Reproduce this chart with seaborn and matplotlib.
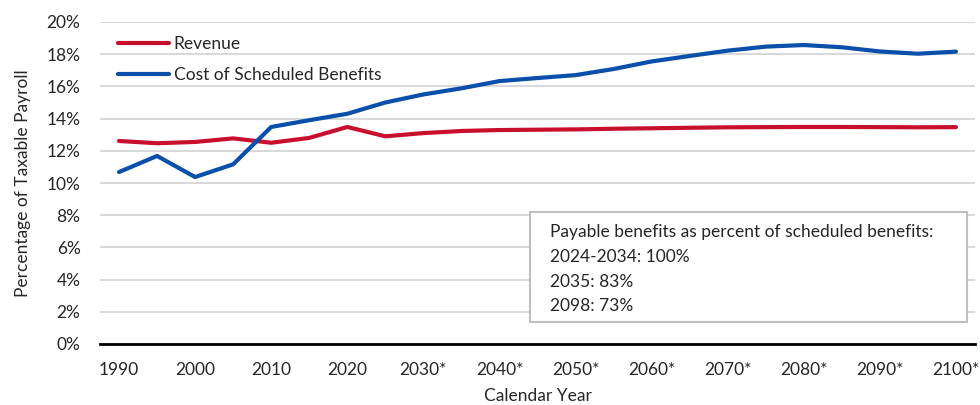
import matplotlib
matplotlib.use("Agg")
import matplotlib.pyplot as plt
import seaborn as sns
import pandas as pd
from matplotlib.ticker import FuncFormatter
from matplotlib.patches import Rectangle

# Social Security trust fund: revenue vs. cost, % of taxable payroll
years = [1990, 1995, 2000, 2005, 2010, 2015, 2020, 2025, 2030, 2035, 2040, 2045,
         2050, 2055, 2060, 2065, 2070, 2075, 2080, 2085, 2090, 2095, 2100]
revenue = [12.61, 12.47, 12.55, 12.77, 12.50, 12.80, 13.48, 12.90, 13.10, 13.23, 13.29, 13.31,
           13.33, 13.37, 13.40, 13.43, 13.46, 13.47, 13.48, 13.48, 13.47, 13.46, 13.47]
cost = [10.68, 11.68, 10.37, 11.16, 13.48, 13.90, 14.30, 15.00, 15.50, 15.88, 16.33, 16.52,
        16.70, 17.08, 17.55, 17.89, 18.22, 18.47, 18.57, 18.43, 18.17, 18.03, 18.16]
tick_years = list(range(1990, 2101, 10))
tick_labels = ["1990", "2000", "2010", "2020", "2030*", "2040*", "2050*",
               "2060*", "2070*", "2080*", "2090*", "2100*"]
note_lines = ["Payable benefits as percent of scheduled benefits:",
              "2024-2034: 100%", "2035: 83%", "2098: 73%"]

df = pd.DataFrame({
    "Year": years * 2,
    "Value": revenue + cost,
    "Series": ["Revenue"] * len(years) + ["Cost of Scheduled Benefits"] * len(years),
})

sns.set_theme(style="white")
plt.rcParams["font.family"] = ["Lato", "DejaVu Sans"]
text_color = "#262626"
fs = 12.5

fig = plt.figure(figsize=(9.8, 4.05), dpi=100)
ax = fig.add_axes([100 / 980, 1 - 344 / 405, 875 / 980, 322 / 405])

palette = {"Revenue": "#C8102E", "Cost of Scheduled Benefits": "#0A4FAA"}
sns.lineplot(data=df, x="Year", y="Value", hue="Series", palette=palette,
             linewidth=3, ax=ax, legend=False)

ax.set_xlim(1987.5, 2102.5)
ax.set_ylim(0, 20)
ax.set_yticks(range(0, 21, 2))
ax.yaxis.set_major_formatter(FuncFormatter(lambda v, _: f"{v:.0f}%"))
ax.set_xticks(tick_years)
ax.set_xticklabels(tick_labels)
ax.tick_params(axis="y", labelsize=fs, colors=text_color, length=0, pad=14)
ax.tick_params(axis="x", labelsize=fs, colors=text_color, length=0, pad=13)

ax.grid(axis="y", color="#D9D9D9", linewidth=1.5)
ax.set_axisbelow(True)
for side in ["top", "right", "left"]:
    ax.spines[side].set_visible(False)
ax.spines["bottom"].set_color("black")
ax.spines["bottom"].set_linewidth(2)
ax.spines["bottom"].set_zorder(5)

ax.set_xlabel("Calendar Year", fontsize=fs, color=text_color, labelpad=7)
ax.set_ylabel("Percentage of Taxable Payroll", fontsize=fs, color=text_color, labelpad=11)

# Legend
handles = [plt.Line2D([], [], color=palette["Revenue"], lw=3),
           plt.Line2D([], [], color=palette["Cost of Scheduled Benefits"], lw=3)]
ax.legend(handles, ["Revenue", "Cost of Scheduled Benefits"], loc="upper left",
          bbox_to_anchor=(0.003, 1.005), frameon=False, fontsize=fs,
          handlelength=2.9, handletextpad=0.3, labelspacing=0.85,
          labelcolor=text_color)

# Note box
ax.add_patch(Rectangle((0.4914, 0.0683), 0.4995, 0.3417, transform=ax.transAxes,
                       facecolor="white", edgecolor="#BFBFBF", linewidth=1.5,
                       zorder=6))
for ypos, line in zip([0.348, 0.270, 0.193, 0.118], note_lines):
    ax.text(0.5143, ypos, line, transform=ax.transAxes, fontsize=fs,
            color=text_color, va="center", ha="left", zorder=7)

fig.savefig("out.png", dpi=100)
